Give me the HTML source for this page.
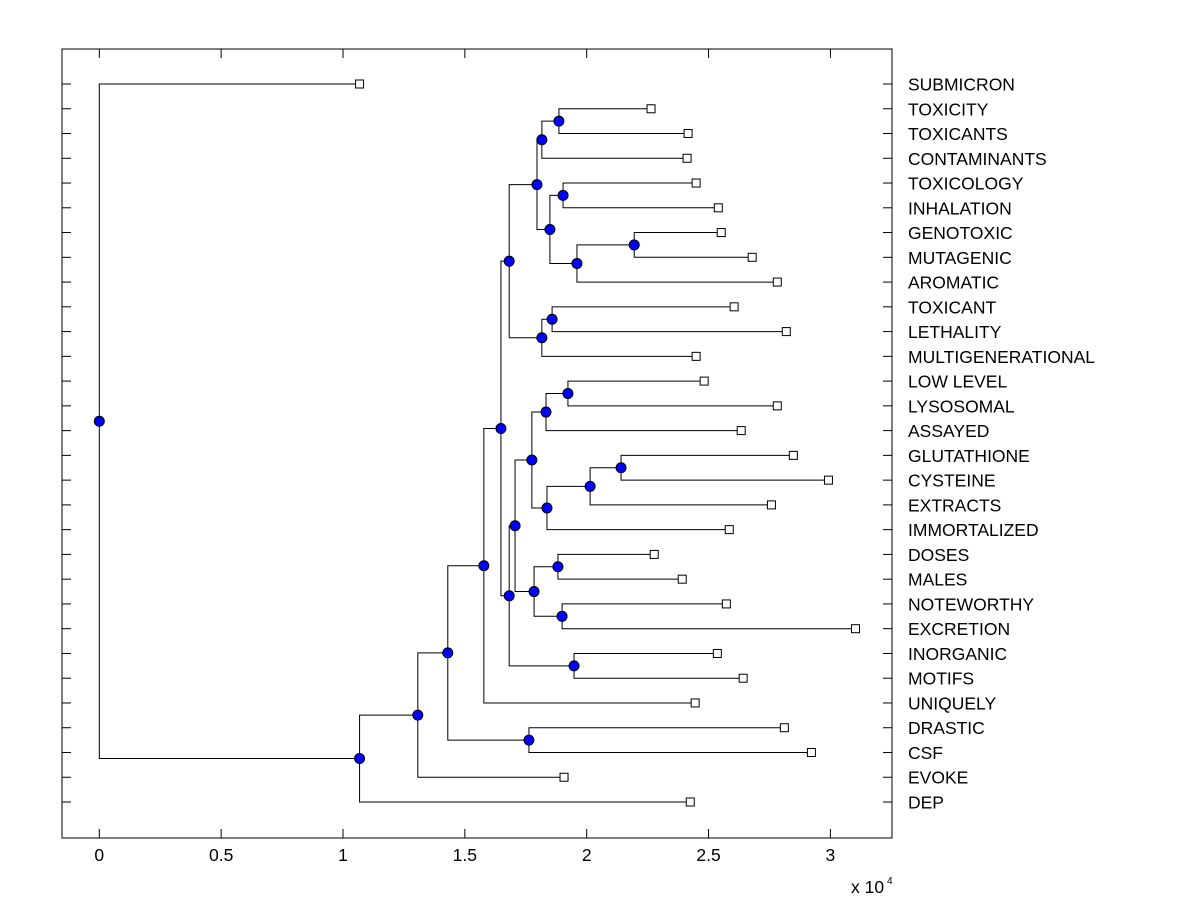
<!DOCTYPE html>
<html><head><meta charset="utf-8"><style>
html,body{margin:0;padding:0;background:#fff;}
svg text{font-family:"Liberation Sans",Arial,sans-serif;font-size:16px;fill:#000;}
svg text.lbl{font-size:17.5px;}
</style></head><body>
<svg id="chart" width="1200" height="900" xmlns="http://www.w3.org/2000/svg"></svg>
<script>
const leafLabels=["SUBMICRON","TOXICITY","TOXICANTS","CONTAMINANTS","TOXICOLOGY","INHALATION","GENOTOXIC","MUTAGENIC","AROMATIC","TOXICANT","LETHALITY","MULTIGENERATIONAL","LOW LEVEL","LYSOSOMAL","ASSAYED","GLUTATHIONE","CYSTEINE","EXTRACTS","IMMORTALIZED","DOSES","MALES","NOTEWORTHY","EXCRETION","INORGANIC","MOTIFS","UNIQUELY","DRASTIC","CSF","EVOKE","DEP"];
const leafValues=[1.068,2.264,2.416,2.412,2.449,2.540,2.552,2.679,2.782,2.605,2.819,2.449,2.482,2.782,2.634,2.848,2.992,2.758,2.585,2.277,2.392,2.573,3.103,2.536,2.642,2.445,2.811,2.922,1.907,2.425];
// internal nodes: [name, height, childA, childB]; children are leaf indices (numbers) or node names
const nodeNames=["M","N","P","Q","X","Z","AA","AB","S","E","K","O","L","I","J","G","Y","W","V","T","U","R","H","F","D","C","B","A","root"];
const nodeHeights=[1.886,1.903,2.195,1.858,1.923,2.141,1.882,1.899,1.948,1.763,1.816,1.960,1.849,1.796,1.816,1.682,2.014,1.837,1.833,1.775,1.784,1.706,1.682,1.648,1.578,1.430,1.307,1.068,0];
const nodeChildren=[[1,2],[4,5],[6,7],[9,10],[12,13],[15,16],[19,20],[21,22],[23,24],[26,27],["M",3],["P",8],["N","O"],["K","L"],["Q",11],["I","J"],["Z",17],["Y",18],["X",14],["V","W"],["AA","AB"],["T","U"],["R","S"],["G","H"],["F",25],["D","E"],["C",28],["B",29],[0,"A"]];
const xTicks=[0,0.5,1,1.5,2,2.5,3];

const X0=99.3,XS=243.7,Y0=84,YS=(802-84)/29;
const sx=v=>X0+v*XS, sy=i=>Y0+i*YS;
const svg=document.getElementById('chart');
const NS="http://www.w3.org/2000/svg";
function mk(tag,attrs,name){const e=document.createElementNS(NS,tag);for(const k in attrs)e.setAttribute(k,attrs[k]);


svg.appendChild(e);return e;}
mk('rect',{x:62,y:49,width:830,height:789,fill:'none',stroke:'#000','stroke-width':1},'plot-frame');
xTicks.forEach(t=>{const x=sx(t);
mk('line',{x1:x,y1:838,x2:x,y2:829,stroke:'#000'},'x-tick');
mk('line',{x1:x,y1:49,x2:x,y2:58,stroke:'#000'},'x-tick-top');
const tx=mk('text',{x:x,y:861,'text-anchor':'middle',class:'lbl'},'x-tick-label');tx.textContent=String(t);});
const sc=mk('text',{x:851,y:893,class:'lbl'},'x-scale-label');sc.textContent='x 10';
const sup=mk('text',{x:887,y:884,style:'font-size:10px'},'x-scale-exponent');sup.textContent='4';
leafLabels.forEach((l,i)=>{const y=sy(i);
mk('line',{x1:62,y1:y,x2:71,y2:y,stroke:'#000'},'y-tick');
mk('line',{x1:883,y1:y,x2:892,y2:y,stroke:'#000'},'y-tick-right');
const t=mk('text',{x:908,y:y+6.5,class:'lbl'},'leaf-label');t.textContent=l;});
const pos={};
leafValues.forEach((v,i)=>pos[i]={x:sx(v),y:sy(i)});
nodeNames.forEach((n,k)=>{const [a,b]=nodeChildren[k];pos[n]={x:sx(nodeHeights[k]),y:(pos[a].y+pos[b].y)/2};});
nodeNames.forEach((n,k)=>{const p=pos[n];const [a,b]=nodeChildren[k];
mk('path',{d:`M${pos[a].x},${pos[a].y}H${p.x}V${pos[b].y}H${pos[b].x}`,fill:'none',stroke:'#000','stroke-width':1},'branch');});
leafValues.forEach((v,i)=>{const p=pos[i];mk('rect',{x:p.x-4,y:p.y-4,width:8,height:8,fill:'#fff',stroke:'#000'},'leaf-marker');});
nodeNames.forEach(n=>{const p=pos[n];mk('circle',{cx:p.x,cy:p.y,r:5,fill:'#0000ff',stroke:'#000','stroke-width':1},'node-marker');});
</script>
</body></html>
